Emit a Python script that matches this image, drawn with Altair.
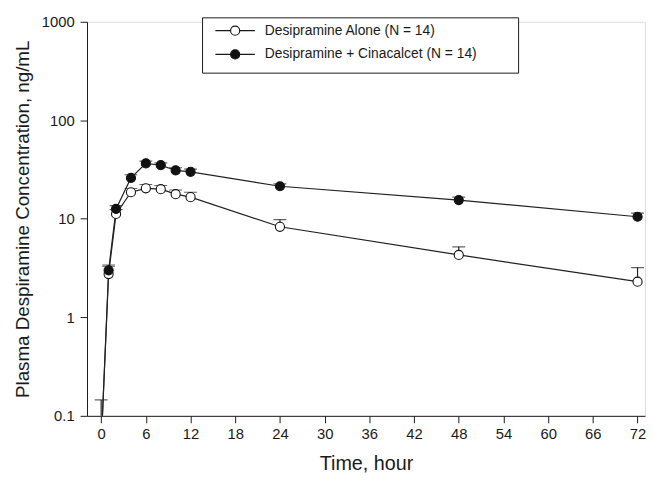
import altair as alt
import pandas as pd

# ---- data ----
time = [0, 1, 2, 4, 6, 8, 10, 12, 24, 48, 72]
alone_mean = [0.05, 2.75, 11.2, 18.6, 20.4, 20.0, 17.8, 16.6, 8.3, 4.3, 2.3]
alone_upper = [0.145, 3.3, 12.4, 20.3, 22.3, 21.8, 19.6, 18.6, 9.8, 5.2, 3.2]
cina_mean = [0.05, 3.0, 12.6, 26.0, 36.5, 35.0, 31.0, 30.0, 21.4, 15.5, 10.5]
cina_upper = [0.09, 3.4, 13.6, 28.0, 38.5, 37.0, 33.0, 32.0, 22.6, 16.6, 11.4]
series_names = ["Desipramine Alone (N = 14)", "Desipramine + Cinacalcet (N = 14)"]

x_ticks = list(range(0, 73, 6))
y_ticks = [0.1, 1, 10, 100, 1000]

rows = []
for name, means, ups in [(series_names[0], alone_mean, alone_upper),
                         (series_names[1], cina_mean, cina_upper)]:
    for t, m, u in zip(time, means, ups):
        rows.append({"series": name, "time": t, "mean": m, "upper": u})
df = pd.DataFrame(rows)

W, H = 565, 399
FONT = "Liberation Sans"
INK = "#1a1a1a"

xs = alt.Scale(domain=[-1.9, 73], nice=False, zero=False)
ys = alt.Scale(type="log", domain=[0.1, 1000], nice=False)

x_axis = alt.Axis(values=x_ticks, title="Time, hour", grid=False, tickSize=7,
                  labelPadding=4, titlePadding=12, labelFontSize=15, titleFontSize=20,
                  labelFont=FONT, titleFont=FONT, labelColor=INK, titleColor=INK,
                  titleFontWeight="normal", domainColor=INK, tickColor=INK)
y_axis = alt.Axis(values=y_ticks, title="Plasma Despiramine Concentration, ng/mL",
                  grid=False, tickSize=7, labelPadding=6, titlePadding=9,
                  labelFontSize=15, titleFontSize=19, labelFont=FONT, titleFont=FONT,
                  labelColor=INK, titleColor=INK, titleFontWeight="normal",
                  domainColor=INK, tickColor=INK, format="~g")

color_fill = alt.Scale(domain=series_names, range=["white", "#111111"])

base = alt.Chart(df)

lines = base.mark_line(color="#222222", strokeWidth=1.2, clip=True).encode(
    x=alt.X("time:Q", scale=xs, axis=x_axis),
    y=alt.Y("mean:Q", scale=ys, axis=y_axis),
    detail="series:N",
)

err = base.mark_rule(color="#222222", strokeWidth=1.2, clip=True).encode(
    x="time:Q", y=alt.Y("mean:Q", scale=ys), y2="upper:Q"
)
caps = base.mark_tick(color="#222222", thickness=1.2, size=13, orient="horizontal",
                      clip=True).encode(
    x="time:Q", y=alt.Y("upper:Q", scale=ys)
)

pts = base.mark_point(filled=True, stroke="#111111", strokeWidth=1.1, size=85, opacity=1,
                      clip=True).encode(
    x="time:Q",
    y=alt.Y("mean:Q", scale=ys),
    fill=alt.Fill("series:N", scale=color_fill, legend=None),
)

# ---- manual legend box ----
leg_df = pd.DataFrame({"series": series_names})
one = leg_df.head(1)
box = alt.Chart(one).mark_rect(fill="white", stroke=INK, strokeWidth=1).encode(
    x=alt.value(117), x2=alt.value(437), y=alt.value(-4), y2=alt.value(52)
)
leg_line1 = alt.Chart(one).mark_rule(color=INK, strokeWidth=1.2).encode(
    x=alt.value(130), x2=alt.value(170), y=alt.value(9)
)
leg_line2 = alt.Chart(one).mark_rule(color=INK, strokeWidth=1.2).encode(
    x=alt.value(130), x2=alt.value(170), y=alt.value(33)
)
leg_pt1 = alt.Chart(one).mark_point(filled=True, fill="white", stroke="#111111",
                                    strokeWidth=1.1, size=85, opacity=1).encode(
    x=alt.value(150), y=alt.value(9)
)
leg_pt2 = alt.Chart(one).mark_point(filled=True, fill="#111111", stroke="#111111",
                                    strokeWidth=1.1, size=85, opacity=1).encode(
    x=alt.value(150), y=alt.value(33)
)
leg_txt1 = alt.Chart(one).mark_text(align="left", baseline="middle", fontSize=14,
                                    font=FONT, color=INK).encode(
    x=alt.value(180), y=alt.value(9), text=alt.value(series_names[0])
)
leg_txt2 = alt.Chart(one).mark_text(align="left", baseline="middle", fontSize=14,
                                    font=FONT, color=INK).encode(
    x=alt.value(180), y=alt.value(33), text=alt.value(series_names[1])
)

chart = alt.layer(
    lines, err, caps, pts,
    box, leg_line1, leg_line2, leg_pt1, leg_pt2, leg_txt1, leg_txt2,
).properties(
    width=W, height=H,
    autosize=alt.AutoSizeParams(type="none"),
    padding={"left": 80, "top": 11, "right": 1, "bottom": 62},
).configure_view(stroke=None).configure(background="white")

chart.save("out.html", embed_options={"renderer": "svg", "actions": False})
